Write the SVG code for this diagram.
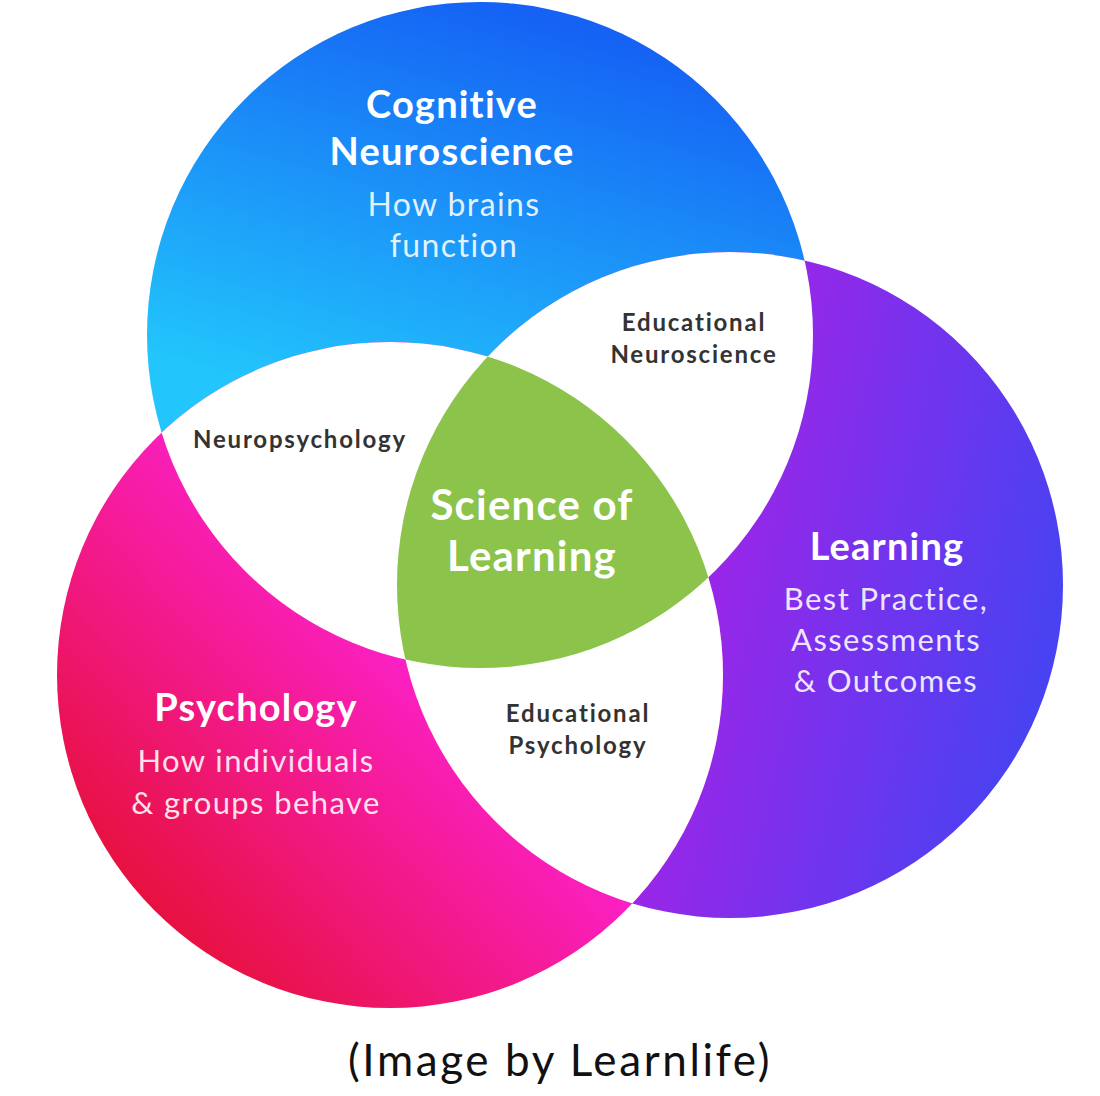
<svg xmlns="http://www.w3.org/2000/svg" width="1100" height="1096" viewBox="0 0 1100 1096">
<defs>
<linearGradient id="gBlue" gradientUnits="userSpaceOnUse" x1="520" y1="10" x2="400" y2="430">
<stop offset="0" stop-color="#1562f4"/><stop offset="1" stop-color="#22c6fc"/>
</linearGradient>
<linearGradient id="gPurple" gradientUnits="userSpaceOnUse" x1="720" y1="520" x2="1060" y2="600">
<stop offset="0" stop-color="#9a26e8"/><stop offset="1" stop-color="#4842f2"/>
</linearGradient>
<linearGradient id="gPink" gradientUnits="userSpaceOnUse" x1="140" y1="920" x2="440" y2="640">
<stop offset="0" stop-color="#e6103a"/><stop offset="1" stop-color="#fd22d2"/>
</linearGradient>
<clipPath id="cBlue"><circle cx="480" cy="335" r="333"/></clipPath>
<clipPath id="cPurple"><circle cx="730" cy="585" r="333"/></clipPath>
<clipPath id="cPink"><circle cx="390" cy="675" r="333"/></clipPath>
<style>
.h{font-family:Lato,"Noto Sans",sans-serif;font-weight:700;fill:#fff;text-anchor:middle;letter-spacing:1.2px}
.s{font-family:Lato,"Noto Sans",sans-serif;font-weight:400;fill:#fff;fill-opacity:0.88;text-anchor:middle;letter-spacing:1.4px}
.o{font-family:Lato,"Noto Sans",sans-serif;font-weight:700;fill:#333;text-anchor:middle;font-size:24px;letter-spacing:1.8px}
</style>
</defs>
<g id="circle-blue"><circle cx="480" cy="335" r="333" fill="url(#gBlue)"/></g>
<g id="circle-purple"><circle cx="730" cy="585" r="333" fill="url(#gPurple)"/></g>
<g id="circle-pink"><circle cx="390" cy="675" r="333" fill="url(#gPink)"/></g>
<g id="overlaps">
<g clip-path="url(#cBlue)"><circle cx="730" cy="585" r="333" fill="#fff"/></g>
<g clip-path="url(#cBlue)"><circle cx="390" cy="675" r="333" fill="#fff"/></g>
<g clip-path="url(#cPink)"><circle cx="730" cy="585" r="333" fill="#fff"/></g>
</g>
<g id="center">
<g clip-path="url(#cBlue)"><g clip-path="url(#cPink)"><circle cx="730" cy="585" r="333" fill="#8cc34b"/></g></g>
</g>
<g id="label-cognitive">
<text class="h" x="452" y="118" font-size="38">Cognitive</text>
<text class="h" x="452" y="165" font-size="38">Neuroscience</text>
<text class="s" x="454" y="216" font-size="32">How brains</text>
<text class="s" x="454" y="257" font-size="32">function</text>
</g>
<g id="label-edneuro">
<text class="o" x="694" y="331">Educational</text>
<text class="o" x="694" y="363">Neuroscience</text>
</g>
<g id="label-neuropsych">
<text class="o" x="300" y="448">Neuropsychology</text>
</g>
<g id="label-sol">
<text class="h" x="532" y="520" font-size="42">Science of</text>
<text class="h" x="532" y="571" font-size="42">Learning</text>
</g>
<g id="label-learning">
<text class="h" x="887" y="560" font-size="38">Learning</text>
<text class="s" x="886" y="610" font-size="31">Best Practice,</text>
<text class="s" x="886" y="651" font-size="31">Assessments</text>
<text class="s" x="886" y="692" font-size="31">&amp; Outcomes</text>
</g>
<g id="label-psych">
<text class="h" x="256" y="721" font-size="38">Psychology</text>
<text class="s" x="256" y="772" font-size="31">How individuals</text>
<text class="s" x="256" y="814" font-size="31">&amp; groups behave</text>
</g>
<g id="label-edpsych">
<text class="o" x="578" y="722">Educational</text>
<text class="o" x="578" y="754">Psychology</text>
</g>
<text x="560" y="1076" font-family="Lato,'Noto Sans',sans-serif" font-size="44" letter-spacing="2.6" fill="#111" text-anchor="middle">(Image by Learnlife)</text>
</svg>
